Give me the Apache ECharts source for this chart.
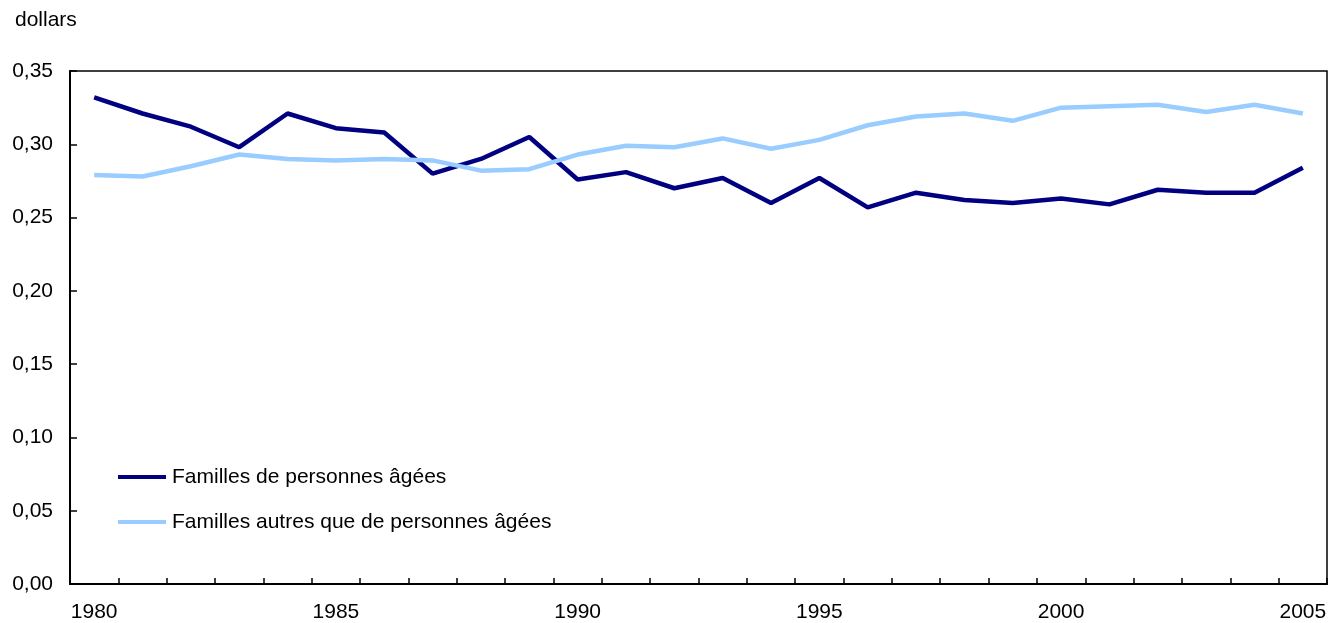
<!DOCTYPE html>
<html>
<head>
<meta charset="utf-8">
<script src="https://cdn.jsdelivr.net/npm/echarts@6/dist/echarts.min.js"></script>
<style>
html,body{margin:0;padding:0;background:#fff;}
#chart{width:1335px;height:623px;}
</style>
</head>
<body>
<div id="chart"></div>
<script>
const years = ['1980','1981','1982','1983','1984','1985','1986','1987','1988','1989','1990','1991','1992','1993','1994','1995','1996','1997','1998','1999','2000','2001','2002','2003','2004','2005'];
const seniorFamilies = [0.332,0.321,0.312,0.298,0.321,0.311,0.308,0.280,0.290,0.305,0.276,0.281,0.270,0.277,0.260,0.277,0.257,0.267,0.262,0.260,0.263,0.259,0.269,0.267,0.267,0.284];
const nonSeniorFamilies = [0.279,0.278,0.285,0.293,0.290,0.289,0.290,0.289,0.282,0.283,0.293,0.299,0.298,0.304,0.297,0.303,0.313,0.319,0.321,0.316,0.325,0.326,0.327,0.322,0.327,0.321];
const seriesNames = ['Familles de personnes âgées','Familles autres que de personnes âgées'];
const unitLabel = 'dollars';

const FONT = '"Liberation Sans", Arial, Helvetica, sans-serif';
const chart = echarts.init(document.getElementById('chart'), null, {renderer:'canvas'});
chart.setOption({
  animation: false,
  backgroundColor: '#fff',
  textStyle: {fontFamily: FONT, color: '#000'},
  title: {
    text: unitLabel, left: 10, top: 5,
    textStyle: {fontFamily: FONT, fontSize: 21, fontWeight: 'normal', color: '#000'}
  },
  legend: {
    orient: 'vertical', left: 113, top: 460,
    itemWidth: 48, itemHeight: 4, itemGap: 21,
    icon: 'rect',
    textStyle: {fontFamily: FONT, fontSize: 21, color: '#000', lineHeight: 24, padding: [0,0,0,1]},
    data: seriesNames
  },
  grid: {
    left: 70, right: 8, top: 71, bottom: 39,
    show: true, borderColor: '#000', borderWidth: 1.5, backgroundColor: 'transparent'
  },
  xAxis: {
    type: 'category', data: years, boundaryGap: true,
    axisLine: {show: true, lineStyle: {color: '#000', width: 2}},
    axisTick: {show: true, inside: true, length: 6, interval: 0, alignWithLabel: false, lineStyle: {color: '#000', width: 1.5}},
    axisLabel: {interval: 4, margin: 18, fontSize: 21, color: '#000', fontFamily: FONT},
    splitLine: {show: false}
  },
  yAxis: {
    type: 'value', min: 0, max: 0.35, interval: 0.05,
    axisLine: {show: true, lineStyle: {color: '#000', width: 2}},
    axisTick: {show: true, inside: true, length: 7, lineStyle: {color: '#000', width: 1.5}},
    axisLabel: {margin: 17, fontSize: 21, color: '#000', fontFamily: FONT,
      formatter: v => v.toFixed(2).replace('.', ',')},
    splitLine: {show: false}
  },
  series: [
    {name: seriesNames[0], type: 'line', data: seniorFamilies, symbol: 'none',
     lineStyle: {color: '#000080', width: 4.5}, itemStyle: {color: '#000080'}},
    {name: seriesNames[1], type: 'line', data: nonSeniorFamilies, symbol: 'none',
     lineStyle: {color: '#99CCFF', width: 4.5}, itemStyle: {color: '#99CCFF'}}
  ]
});
</script>
</body>
</html>
